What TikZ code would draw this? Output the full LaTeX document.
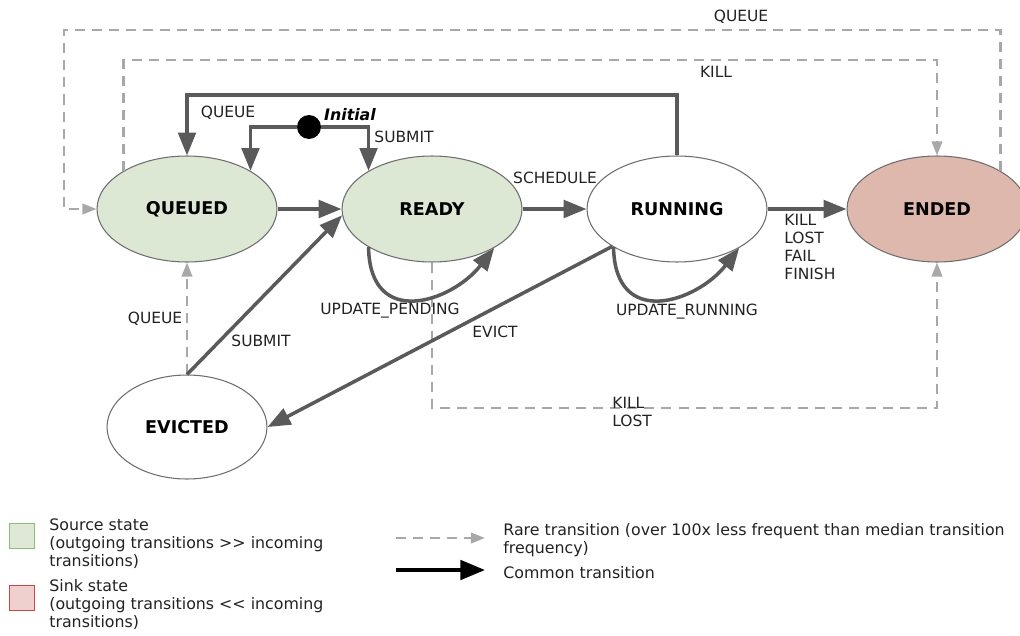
\documentclass[tikz,border=0pt]{standalone}
\usepackage{fontspec}
\setmainfont{DejaVu Sans}[Ligatures=TeXOff]
\usetikzlibrary{arrows.meta,shapes.geometric}
\definecolor{srcfill}{HTML}{DCE7D4}
\definecolor{sinkfill}{HTML}{DFB8AD}
\definecolor{edgegray}{HTML}{6E6E6E}
\definecolor{commongray}{HTML}{5A5A5A}
\definecolor{raregray}{HTML}{A8A8A8}
\definecolor{labelgray}{HTML}{222222}
\definecolor{keygreen}{HTML}{DDE8D6}
\definecolor{keygreenline}{HTML}{8DBE72}
\definecolor{keyred}{HTML}{F0CFCF}
\definecolor{keyredline}{HTML}{C9473D}
\begin{document}
\begin{tikzpicture}[x=0.02cm,y=-0.02cm,
  state/.style={ellipse,draw=edgegray,line width=0.6pt,minimum width=3.6cm,
    minimum height=2.12cm,font=\fontsize{10}{12}\selectfont\bfseries},
  common/.style={draw=commongray,line width=2pt,-{Triangle[length=13pt,width=10pt]}},
  rare/.style={draw=raregray,line width=1.2pt,dash pattern=on 5.7pt off 4pt,
    -{Triangle[length=8pt,width=6pt]}},
  lbl/.style={font=\fontsize{8.8}{10.25}\selectfont,text=labelgray,inner sep=0pt,align=left},
  keytext/.style={font=\fontsize{9}{10.25}\selectfont,text=labelgray,inner sep=0pt,
    align=left,anchor=west}]
  \useasboundingbox (0,0) rectangle (1020,635);

  % Define states
  \node[state,fill=srcfill] (queued) at (187,209) {QUEUED};
  \node[state,fill=srcfill] (ready) at (432,209) {READY};
  \node[state,fill=white] (running) at (677,209) {RUNNING};
  \node[state,fill=sinkfill] (ended) at (937,209) {ENDED};
  \node[state,fill=white,minimum width=3.2cm,minimum height=2.08cm] (evicted) at (187,427) {EVICTED};
  \node[circle,fill=black,minimum size=0.48cm,inner sep=0pt] (init) at (309,127) {};

  % Rare transitions
  \draw[rare] (ended.31) |- (64,30) |- (queued.west);
  \draw[rare] (queued.149) |- (600,60) -| (ended.north);
  \draw[rare] (ready.south) |- (600,408) -| (ended.south);
  \draw[rare] (evicted.north) -- (queued.south);

  % Common transitions
  \draw[common] (init) -| (queued.31);
  \draw[common] (init) -| (ready.149);
  \draw[common] (running.north) |- (400,95) -| (queued.north);
  \draw[common] (queued) -- (ready);
  \draw[common] (ready) -- (running);
  \draw[common] (running) -- (ended);
  \draw[common] (evicted.north) -- (ready.184);
  \draw[common] (running.210) -- (evicted.east);
  \draw[common] (ready.211) .. controls (370,330) and (452,302) .. (ready.-32);
  \draw[common] (running.211) .. controls (615,330) and (697,302) .. (running.-32);

  % Labels
  \node[lbl] (lqueuetop) at (741,17) {QUEUE};
  \node[lbl] (lkilltop) at (716,72) {KILL};
  \node[lbl] (lqueue) at (228,113) {QUEUE};
  \node[font=\fontsize{9}{11}\selectfont\bfseries\itshape,inner sep=0pt] (linit) at (350,115) {Initial};
  \node[lbl] (lsubmit) at (404,137) {SUBMIT};
  \node[lbl] (lschedule) at (555,178) {SCHEDULE};
  \node[lbl,anchor=north west] (lend) at (784,214) {KILL\\LOST\\FAIL\\FINISH};
  \node[lbl] (lpending) at (390,311) {UPDATE\_PENDING};
  \node[lbl] (lrunning) at (687,312) {UPDATE\_RUNNING};
  \node[lbl] (lqueuelow) at (155,319) {QUEUE};
  \node[lbl] (lsubmitlow) at (261,341) {SUBMIT};
  \node[lbl] (levict) at (495,332) {EVICT};
  \node[lbl,anchor=west] (lkilllost) at (612,412) {KILL\\LOST};

  % Legend
  \node[draw=keygreenline,fill=keygreen,line width=1pt,minimum size=0.5cm,inner sep=0pt] (srckey) at (22,536) {};
  \node[draw=keyredline,fill=keyred,line width=1pt,minimum size=0.5cm,inner sep=0pt] (sinkkey) at (22,598) {};
  \node[keytext] (srctext) at (49,544) {Source state\\(outgoing transitions >> incoming\\transitions)};
  \node[keytext] (sinktext) at (49,605) {Sink state\\(outgoing transitions << incoming\\transitions)};
  \coordinate (rarefrom) at (396,538);
  \coordinate (rareto) at (485,538);
  \coordinate (commonfrom) at (396,570);
  \coordinate (commonto) at (485,570);
  \draw[rare] (rarefrom) -- (rareto);
  \draw[line width=2.2pt,-{Triangle[length=14pt,width=11pt]}] (commonfrom) -- (commonto);
  \node[keytext] (raretext) at (503,540) {Rare transition (over 100x less frequent than median transition\\frequency)};
  \node[keytext] (commontext) at (503,573) {Common transition};
\end{tikzpicture}
\end{document}
